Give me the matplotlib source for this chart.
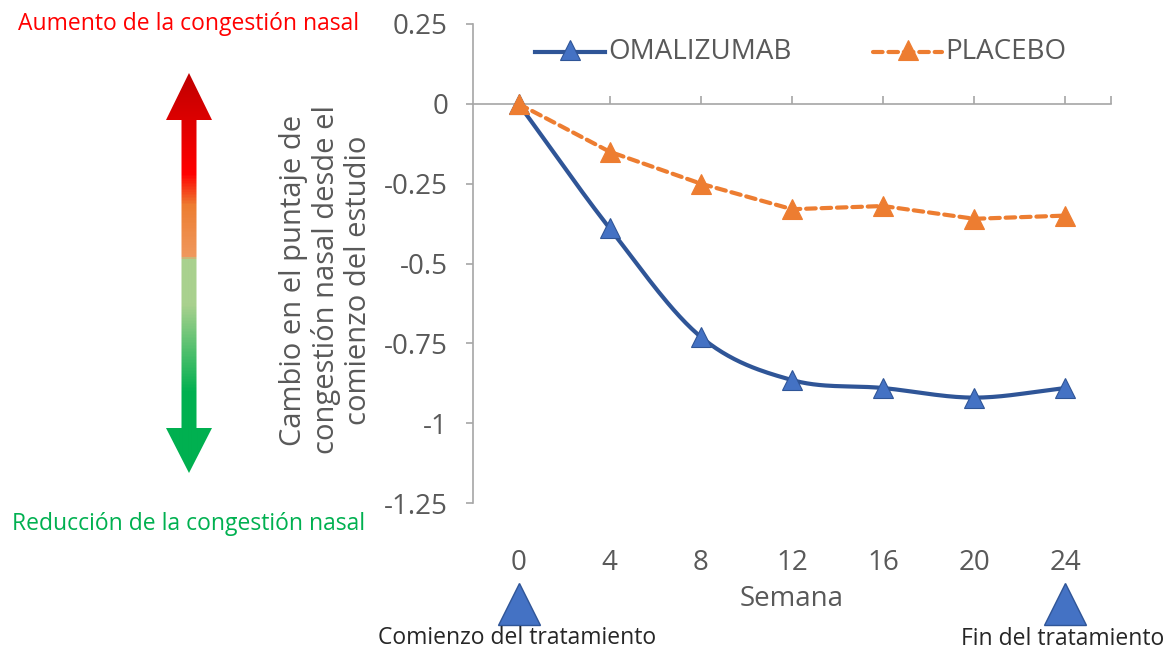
import numpy as np
import matplotlib
matplotlib.use("Agg")
import matplotlib.pyplot as plt
from matplotlib.patches import Polygon
from matplotlib.colors import LinearSegmentedColormap
from matplotlib.lines import Line2D
import matplotlib.transforms as mtransforms

# ---------------- data ----------------
weeks = [0, 4, 8, 12, 16, 20, 24]
omalizumab = [0, -0.39, -0.73, -0.865, -0.89, -0.92, -0.89]
placebo = [0, -0.15, -0.25, -0.33, -0.32, -0.36, -0.35]
y_ticks = [0.25, 0, -0.25, -0.5, -0.75, -1, -1.25]
y_tick_labels = ["0.25", "0", "-0.25", "-0.5", "-0.75", "-1", "-1.25"]
series_names = ["OMALIZUMAB", "PLACEBO"]
x_label = "Semana"
y_label = "Cambio en el puntaje de\ncongestión nasal desde el\ncomienzo del estudio"
top_note = "Aumento de la congestión nasal"
bottom_note = "Reducción de la congestión nasal"
start_note = "Comienzo del tratamiento"
end_note = "Fin del tratamiento"

FONT = ["Open Sans", "DejaVu Sans"]
plt.rcParams["font.family"] = FONT
GRAY_TXT = "#595959"
AX_GRAY = "#A6A6A6"
BLUE_LINE = "#2F5597"
BLUE_FILL = "#4472C4"
ORANGE = "#ED7D31"

W, H = 1173, 651
fig = plt.figure(figsize=(W / 100, H / 100), dpi=100)

def fx(px):
    return px / W

def fy(py):
    return 1 - py / H

ax = fig.add_axes([fx(473), fy(503), fx(1111) - fx(473), fy(24) - fy(503)])
ax.set_xlim(-2, 26)
ax.set_ylim(-1.25, 0.25)

# smooth curve (Catmull-Rom style, like a spreadsheet "smoothed line")
def smooth(xs, ys, n=30):
    xs = np.asarray(xs, float)
    ys = np.asarray(ys, float)
    P = np.column_stack([xs, ys])
    P = np.vstack([P[0] - (P[1] - P[0]), P, P[-1] + (P[-1] - P[-2])])
    out = []
    for i in range(1, len(P) - 2):
        p0, p1, p2, p3 = P[i - 1], P[i], P[i + 1], P[i + 2]
        t = np.linspace(0, 1, n, endpoint=False)[:, None]
        c = 0.5 * ((2 * p1) + (-p0 + p2) * t + (2 * p0 - 5 * p1 + 4 * p2 - p3) * t ** 2
                   + (-p0 + 3 * p1 - 3 * p2 + p3) * t ** 3)
        out.append(c)
    out.append(P[-2][None, :])
    out = np.vstack(out)
    return out[:, 0], out[:, 1]

sx, sy = smooth(weeks, omalizumab)
ax.plot(sx, sy, color=BLUE_LINE, lw=3.0, solid_capstyle="round", zorder=3)
ax.plot(weeks, omalizumab, ls="none", marker="^", ms=14, mfc=BLUE_FILL,
        mec=BLUE_LINE, mew=0.8, zorder=4)
ax.plot(weeks, placebo, color=ORANGE, lw=3.0, ls=(0, (2.3, 1.4)),
        dash_capstyle="round", marker="^", ms=14, mfc=ORANGE, mec=ORANGE,
        mew=0.8, zorder=5)

# legend drawn in figure pixel space
def legend_item(x0, x1, text, color, ls, mfc, mec):
    xs = [fx(x0), fx(x1)]
    fig.add_artist(Line2D(xs, [fy(52), fy(52)], transform=fig.transFigure,
                          color=color, lw=3.0, ls=ls, dash_capstyle="round"))
    fig.add_artist(Line2D([fx((x0 + x1) / 2)], [fy(50)], transform=fig.transFigure,
                          ls="none", marker="^", ms=14, mfc=mfc, mec=mec, mew=0.8))
    fig.text(fx(x1 + 3), fy(52), text, ha="left", va="center", fontsize=20,
             color=GRAY_TXT)

legend_item(535, 605, series_names[0], BLUE_LINE, "-", BLUE_FILL, BLUE_LINE)
legend_item(873, 942, series_names[1], ORANGE, (0, (2.3, 1.4)), ORANGE, ORANGE)

# spines
for s in ["top", "right"]:
    ax.spines[s].set_visible(False)
ax.spines["left"].set_color(AX_GRAY)
ax.spines["left"].set_linewidth(1.2)
ax.spines["bottom"].set_position(("data", 0))
ax.spines["bottom"].set_color(AX_GRAY)
ax.spines["bottom"].set_linewidth(1.2)

ax.set_yticks(y_ticks)
ax.set_yticklabels(y_tick_labels)
ax.tick_params(axis="y", direction="out", length=5, width=1.2, color=AX_GRAY,
               labelsize=20, labelcolor=GRAY_TXT, pad=13)
ax.set_xticks(weeks + [26])
ax.tick_params(axis="x", direction="in", length=6, width=1.2, color=AX_GRAY,
               labelbottom=False)

# x tick labels below the plot
tr = mtransforms.blended_transform_factory(ax.transData, fig.transFigure)
for w in weeks:
    ax.text(w, fy(563), str(w), transform=tr, ha="center", va="center",
            fontsize=20, color=GRAY_TXT)
ax.text(12, fy(599), x_label, transform=tr, ha="center", va="center",
        fontsize=20, color=GRAY_TXT)

# treatment markers
for w in [0, 24]:
    ax.plot(w, fy(604), transform=tr, marker="^", ms=30, mfc=BLUE_FILL,
            mec=BLUE_LINE, mew=1.0, clip_on=False)
fig.text(fx(517), fy(638), start_note, ha="center", va="center", fontsize=16.5,
         color="#262626")
fig.text(fx(1063), fy(639), end_note, ha="center", va="center", fontsize=16.5,
         color="#262626")

# y label
fig.text(fx(326), fy(280), y_label, rotation=90, ha="center", va="center",
         fontsize=21, color=GRAY_TXT, linespacing=1.12, multialignment="center")

# left notes
fig.text(fx(189), fy(24), top_note, ha="center", va="center", fontsize=16.5,
         color="#FF0000")
fig.text(fx(189), fy(524), bottom_note, ha="center", va="center", fontsize=16.5,
         color="#00B050")

# gradient double arrow
ov = fig.add_axes([0, 0, 1, 1], zorder=-1)
ov.set_xlim(0, W)
ov.set_ylim(H, 0)
ov.axis("off")
cx = 189
poly = [(cx, 73), (cx + 23, 120), (cx + 7.5, 120), (cx + 7.5, 428), (cx + 23, 428),
        (cx, 473), (cx - 23, 428), (cx - 7.5, 428), (cx - 7.5, 120), (cx - 23, 120)]
stops = [(0.0, "#C00000"), (0.25, "#FF0000"), (0.33, "#ED7D31"),
         (0.46, "#F0995E"), (0.465, "#A9D18E"), (0.58, "#A9D18E"),
         (0.80, "#00B050"), (1.0, "#00B050")]
cmap = LinearSegmentedColormap.from_list("arr", stops)
grad = np.linspace(0, 1, 400)[:, None]
im = ov.imshow(grad, cmap=cmap, aspect="auto", extent=(cx - 24, cx + 24, 473, 73),
               origin="upper", interpolation="bilinear")
patch = Polygon(poly, closed=True, facecolor="none", edgecolor="none")
ov.add_patch(patch)
im.set_clip_path(patch)

fig.savefig("out.png", dpi=100)
